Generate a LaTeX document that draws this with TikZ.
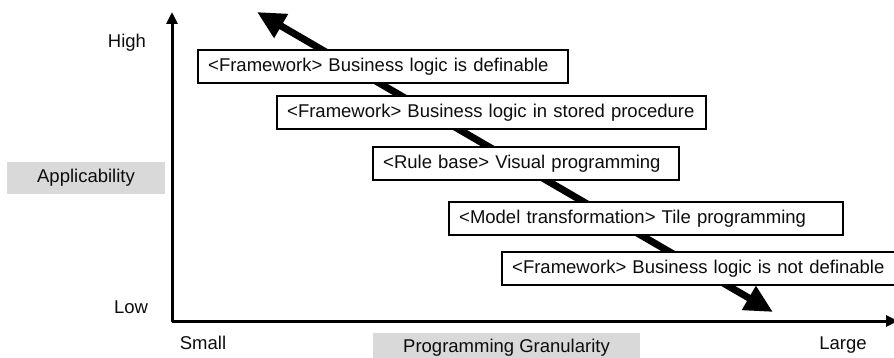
\documentclass[tikz,border=0pt]{standalone}
\usepackage{fontspec}
\setmainfont{Liberation Sans}
\usetikzlibrary{arrows.meta}
\begin{document}
\begin{tikzpicture}[x=1pt,y=-1pt,
  every node/.style={font=\fontsize{18.5}{22}\selectfont, text=black!95},
  stepbox/.style={draw=black, line width=2.4pt, fill=white, anchor=north west, minimum height=33pt, inner xsep=10pt, inner ysep=0pt, align=left},
  graybox/.style={fill=black!15, inner sep=0pt},
  axis/.style={line width=3pt, line join=round, {Triangle[length=12pt,width=11pt]}-{Triangle[length=12pt,width=11pt]}},
  bigarrow/.style={line width=7pt, {Triangle[length=28pt,width=26pt]}-{Triangle[length=28pt,width=26pt]}},
]
\useasboundingbox (0,0) rectangle (894,358);
% gray label boxes
\node[graybox, minimum width=158pt, minimum height=32pt] (appl) at (86,178) {Applicability};
\node[graybox, minimum width=267pt, minimum height=30pt] (gran) at (506.5,348) {Programming Granularity};
% axis labels
\node (high) at (127,43) {High};
\node (low) at (131,307) {Low};
\node (small) at (203,343) {Small};
\node (large) at (843,345) {Large};
% axes
\coordinate (org) at (172,321);
\coordinate (ytip) at (172,12);
\coordinate (xtip) at (898,321);
\draw[axis] (ytip) -- (org) -- (xtip);
% diagonal arrow
\coordinate (dtop) at (257,12);
\coordinate (dbot) at (773,312);
\draw[bigarrow] (dtop) -- (dbot);
% boxes
\node[stepbox, text width=350pt] (b1) at (197,49) {<Framework> Business logic is definable};
\node[stepbox, text width=409pt] (b2) at (276,95) {<Framework> Business logic in stored procedure};
\node[stepbox, text width=286pt] (b3) at (372,146) {<Rule base> Visual programming};
\node[stepbox, text width=374pt] (b4) at (448,201) {<Model transformation> Tile programming};
\node[stepbox, text width=382pt] (b5) at (501,251) {<Framework> Business logic is not definable};
\end{tikzpicture}
\end{document}
